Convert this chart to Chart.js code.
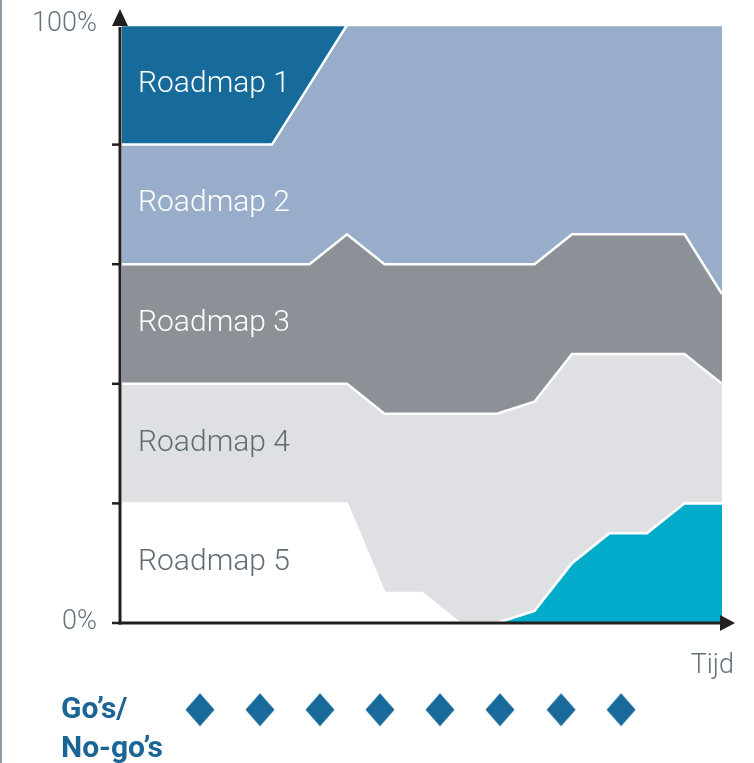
<!DOCTYPE html>
<html>
<head>
<meta charset="utf-8">
<script src="https://cdn.jsdelivr.net/npm/chart.js@4.4.1/dist/chart.umd.min.js"></script>
<style>
  html, body { margin: 0; padding: 0; background: #fff; }
  #wrap { position: relative; width: 754px; height: 763px; overflow: hidden; }
  #frame { position: absolute; left: 0; top: 0; width: 2px; height: 763px; background: #8f9ba5; }
  canvas { position: absolute; left: 0; top: 0; }
</style>
</head>
<body>
<div id="wrap">
  <canvas id="roadmapChart" width="754" height="763"></canvas>
  <div id="frame"></div>
</div>
<script>
// time steps along the x axis
const timeSteps = [0, 1, 2, 3, 4, 5, 6, 7, 8, 9, 10, 11, 12, 13, 14, 15, 16];

// share of each roadmap per step (%), stacked bottom to top
const newRoadmap = [0, 0, 0, 0, 0, 0, 0, 0, 0, 0, 0, 2, 10, 15, 15, 20, 20];
const roadmap5 = [20, 20, 20, 20, 20, 20, 20, 5, 5, 0, 0, 0, 0, 0, 0, 0, 0];
const roadmap4 = [20, 20, 20, 20, 20, 20, 20, 30, 30, 35, 35, 35, 35, 30, 30, 25, 20];
const roadmap3 = [20, 20, 20, 20, 20, 20, 25, 25, 25, 25, 25, 23, 20, 20, 20, 20, 15];
const roadmap2 = [20, 20, 20, 20, 20, 30, 35, 40, 40, 40, 40, 40, 35, 35, 35, 35, 45];
const roadmap1 = [20, 20, 20, 20, 20, 10, 0, 0, 0, 0, 0, 0, 0, 0, 0, 0, 0];

const roadmapNames = ["Roadmap 1", "Roadmap 2", "Roadmap 3", "Roadmap 4", "Roadmap 5"];
const roadmapLabelAt = [90, 70, 50, 30, 10]; // value at which each name sits

// go / no-go moments on the time axis
const goMoments = [2.08, 3.68, 5.28, 6.88, 8.48, 10.08, 11.71, 13.31];
const goLevel = -14.5;

const yTickValues = [0, 20, 40, 60, 80];
const yLabelValues = [0, 100];
const yLabels = ["0%", "100%"];

const toPoints = (arr) => arr.map((v, i) => ({ x: timeSteps[i], y: v }));

// diamond marker for the go / no-go row
const diamond = document.createElement("canvas");
diamond.width = 30;
diamond.height = 34;
(function () {
  const d = diamond.getContext("2d");
  d.fillStyle = "#186a9a";
  d.beginPath();
  d.moveTo(15, 0.5);
  d.lineTo(29.5, 17);
  d.lineTo(15, 33.5);
  d.lineTo(0.5, 17);
  d.closePath();
  d.fill();
})();

const axesAndLabels = {
  id: "axesAndLabels",
  afterDraw(chart) {
    const ctx = chart.ctx;
    const xs = chart.scales.x;
    const ys = chart.scales.y;
    const ax = chart.chartArea.left - 2;
    const y0 = ys.getPixelForValue(0);
    const yTop = ys.getPixelForValue(100);
    const xEnd = xs.getPixelForValue(timeSteps[timeSteps.length - 1]);

    ctx.save();
    ctx.strokeStyle = "#231f20";
    ctx.fillStyle = "#231f20";
    ctx.lineWidth = 3;

    // y axis + arrow
    ctx.beginPath();
    ctx.moveTo(ax, y0 + 1.5);
    ctx.lineTo(ax, yTop + 2);
    ctx.stroke();
    ctx.beginPath();
    ctx.moveTo(ax, yTop - 16);
    ctx.lineTo(ax + 8, yTop + 1);
    ctx.lineTo(ax - 8, yTop + 1);
    ctx.closePath();
    ctx.fill();

    // x axis + arrow
    ctx.beginPath();
    ctx.moveTo(ax - 1.5, y0);
    ctx.lineTo(xEnd, y0);
    ctx.stroke();
    ctx.beginPath();
    ctx.moveTo(xEnd + 13, y0);
    ctx.lineTo(xEnd - 2, y0 - 8);
    ctx.lineTo(xEnd - 2, y0 + 8);
    ctx.closePath();
    ctx.fill();

    // tick marks
    ctx.lineWidth = 2.5;
    yTickValues.forEach((v) => {
      const py = ys.getPixelForValue(v);
      ctx.beginPath();
      ctx.moveTo(ax - 8, py);
      ctx.lineTo(ax, py);
      ctx.stroke();
    });

    // tick labels
    ctx.fillStyle = "#66737c";
    ctx.font = "300 27px Roboto, 'Open Sans', sans-serif";
    ctx.textAlign = "right";
    ctx.textBaseline = "middle";
    yLabelValues.forEach((v, i) => {
      ctx.fillText(yLabels[i], 97, ys.getPixelForValue(v) - 1);
    });

    // axis title
    ctx.textBaseline = "alphabetic";
    ctx.fillText("Tijd", xEnd + 12, y0 + 50);

    // roadmap names
    ctx.textAlign = "left";
    ctx.font = "300 30px Roboto, 'Open Sans', sans-serif";
    roadmapNames.forEach((name, i) => {
      ctx.fillStyle = i < 3 ? "#ffffff" : "#5f6d77";
      ctx.fillText(name, chart.chartArea.left + 16, ys.getPixelForValue(roadmapLabelAt[i]) + 7);
    });

    // go / no-go title
    ctx.fillStyle = "#1b6496";
    ctx.font = "bold 30px Roboto, sans-serif";
    ctx.fillText("Go\u2019s/", 61, 718);
    ctx.fillText("No-go\u2019s", 61, 757);
    ctx.restore();
  },
};

const areaStyle = {
  borderColor: "#ffffff",
  borderWidth: 2.5,
  borderJoinStyle: "miter",
  pointRadius: 0,
  tension: 0,
};

new Chart(document.getElementById("roadmapChart").getContext("2d"), {
  type: "line",
  data: {
    datasets: [
      { ...areaStyle, label: "Nieuw", data: toPoints(newRoadmap), backgroundColor: "#00acc9", fill: "origin" },
      { ...areaStyle, label: "Roadmap 5", data: toPoints(roadmap5), backgroundColor: "#ffffff", fill: "-1" },
      { ...areaStyle, label: "Roadmap 4", data: toPoints(roadmap4), backgroundColor: "#dfe0e3", fill: "-1" },
      { ...areaStyle, label: "Roadmap 3", data: toPoints(roadmap3), backgroundColor: "#8b9197", fill: "-1" },
      { ...areaStyle, label: "Roadmap 2", data: toPoints(roadmap2), backgroundColor: "#97adc9", fill: "-1" },
      { ...areaStyle, label: "Roadmap 1", data: toPoints(roadmap1), backgroundColor: "#176b9b", fill: "-1" },
      {
        label: "Go's/No-go's",
        data: goMoments.map((m) => ({ x: m, y: goLevel })),
        stack: "go",
        showLine: false,
        pointStyle: diamond,
        pointRadius: 16,
        fill: false,
      },
    ],
  },
  options: {
    responsive: false,
    animation: false,
    events: [],
    layout: { padding: { left: 122, right: 32, top: 25, bottom: 28 } },
    scales: {
      x: { type: "linear", min: 0, max: 16, display: false },
      y: { stacked: true, min: -18.73, max: 100, display: false },
    },
    plugins: {
      legend: { display: false },
      tooltip: { enabled: false },
    },
  },
  plugins: [axesAndLabels],
});
</script>
</body>
</html>
